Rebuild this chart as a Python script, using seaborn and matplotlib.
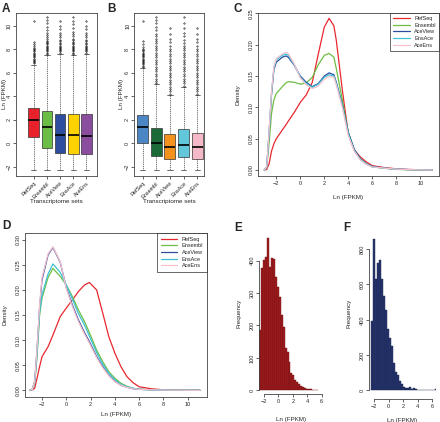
import numpy as np
import pandas as pd
import matplotlib
matplotlib.use("Agg")
import matplotlib.pyplot as plt
import seaborn as sns

sets = ["RefSeq", "Ensembl", "AceView", "EnsAce", "AceEns"]

# ---- panel A / B box summaries (Ln FPKM) ----
a_q1 = [0.51, -0.40, -0.86, -0.90, -0.90]
a_med = [1.94, 1.35, 0.72, 0.68, 0.64]
a_q3 = [2.95, 2.74, 2.46, 2.44, 2.46]
a_lo = [-2.3, -2.3, -2.3, -2.3, -2.3]
a_hi = [6.66, 7.50, 7.57, 7.50, 7.60]
a_fliers = [
    [6.8, 6.9, 7.0, 7.1, 7.2, 7.3, 7.4, 7.5, 7.6, 7.7, 7.8, 7.9, 8.0, 8.1, 8.25, 8.4, 8.6, 10.4],
    [7.6, 7.7, 7.8, 7.9, 8.0, 8.1, 8.2, 8.3, 8.4, 8.5, 8.6, 8.7, 8.85, 9.0, 9.2, 9.4, 9.6, 9.9, 10.2, 10.5, 10.7],
    [7.7, 7.8, 7.9, 8.0, 8.1, 8.2, 8.3, 8.4, 8.5, 8.65, 8.8, 9.0, 9.2, 9.4, 9.7, 10.0, 10.4],
    [7.6, 7.7, 7.8, 7.9, 8.0, 8.1, 8.2, 8.3, 8.4, 8.5, 8.6, 8.75, 8.9, 9.1, 9.3, 9.5, 9.8, 10.1, 10.4, 10.7],
    [7.7, 7.8, 7.9, 8.0, 8.1, 8.2, 8.3, 8.4, 8.5, 8.65, 8.8, 9.0, 9.2, 9.4, 9.7, 10.0, 10.4],
]
b_q1 = [0.00, -1.11, -1.31, -1.17, -1.31]
b_med = [1.35, 0.00, -0.37, -0.14, -0.37]
b_q3 = [2.43, 1.32, 0.80, 1.23, 0.85]
b_lo = [-2.3, -2.3, -2.3, -2.3, -2.3]
b_hi = [6.37, 5.00, 4.10, 4.80, 4.10]
b_fliers = [
    [6.5, 6.6, 6.7, 6.8, 6.9, 7.0, 7.1, 7.2, 7.3, 7.4, 7.5, 7.6, 7.7, 7.8, 7.9, 8.0, 8.2, 8.4, 8.7, 10.4],
    [5.1, 5.3, 5.5, 5.7, 5.9, 6.1, 6.3, 6.5, 6.7, 6.9, 7.1, 7.3, 7.5, 7.7, 7.9, 8.1, 8.3, 8.5, 8.7, 8.9, 9.1, 9.3, 9.6, 9.9, 10.2, 10.5, 10.7],
    [4.2, 4.4, 4.6, 4.8, 5.0, 5.2, 5.4, 5.6, 5.8, 6.0, 6.2, 6.4, 6.6, 6.8, 7.0, 7.2, 7.4, 7.6, 7.8, 8.0, 8.3, 8.6, 8.9, 9.3, 9.8],
    [4.9, 5.1, 5.3, 5.5, 5.7, 5.9, 6.1, 6.3, 6.5, 6.7, 6.9, 7.1, 7.3, 7.5, 7.7, 7.9, 8.1, 8.3, 8.5, 8.8, 9.1, 9.4, 9.8, 10.2, 10.7],
    [4.2, 4.4, 4.6, 4.8, 5.0, 5.2, 5.4, 5.6, 5.8, 6.0, 6.2, 6.4, 6.6, 6.8, 7.0, 7.2, 7.4, 7.6, 7.8, 8.0, 8.3, 8.6, 8.9, 9.3, 9.8],
]
a_colors = ["#E8212A", "#6CBD45", "#2E4D9F", "#FFD200", "#8B4E9F"]
b_colors = ["#4B87C5", "#1C6A38", "#F5921E", "#63C7DC", "#F5B8C6"]

# ---- panel C densities ----
c_x = [-3, -2.8, -2.6, -2.4, -2.2, -2, -1.5, -1.2, -1, -0.5, 0, 0.5, 1, 1.5, 2,
       2.4, 2.8, 3, 3.5, 4, 4.5, 5, 5.5, 6, 7, 8, 9, 10, 11]
c_dens = {
    "RefSeq":  [0, 0.001, 0.01, 0.03, 0.042, 0.05, 0.064, 0.072, 0.078, 0.092, 0.108, 0.12, 0.14, 0.185, 0.228,
                0.242, 0.23, 0.207, 0.128, 0.058, 0.032, 0.021, 0.013, 0.007, 0.004, 0.002, 0.001, 0.0005, 0],
    "Ensembl": [0, 0.004, 0.043, 0.09, 0.112, 0.122, 0.133, 0.139, 0.141, 0.14, 0.137, 0.139, 0.148, 0.168, 0.183,
                0.186, 0.18, 0.162, 0.112, 0.06, 0.032, 0.018, 0.01, 0.005, 0.003, 0.001, 0.0005, 0, 0],
    "AceView": [0, 0.005, 0.06, 0.12, 0.16, 0.172, 0.18, 0.182, 0.18, 0.167, 0.15, 0.14, 0.133, 0.138, 0.15,
                0.155, 0.152, 0.14, 0.105, 0.06, 0.033, 0.018, 0.01, 0.006, 0.003, 0.0015, 0.0007, 0.0003, 0],
    "EnsAce":  [0, 0.005, 0.06, 0.122, 0.163, 0.176, 0.183, 0.185, 0.183, 0.168, 0.148, 0.138, 0.132, 0.137, 0.148,
                0.152, 0.15, 0.138, 0.103, 0.058, 0.031, 0.017, 0.01, 0.005, 0.003, 0.0015, 0.0008, 0.0004, 0.0002],
    "AceEns":  [0, 0.005, 0.062, 0.125, 0.165, 0.178, 0.185, 0.188, 0.186, 0.169, 0.147, 0.136, 0.13, 0.134, 0.145,
                0.149, 0.148, 0.136, 0.1, 0.055, 0.03, 0.016, 0.009, 0.005, 0.003, 0.0015, 0.0007, 0.0003, 0],
}

# ---- panel D densities ----
d_x = [-3, -2.8, -2.6, -2.4, -2.2, -2, -1.5, -1.1, -0.5, 0, 0.5, 1, 1.5, 1.9, 2.5,
       3, 3.5, 4, 4.5, 5, 5.5, 6, 7, 8, 9, 10, 11]
d_dens = {
    "RefSeq":  [0, 0.001, 0.004, 0.025, 0.047, 0.067, 0.087, 0.11, 0.147, 0.164, 0.18, 0.197, 0.21, 0.215, 0.2,
                0.154, 0.107, 0.074, 0.047, 0.027, 0.015, 0.007, 0.003, 0.001, 0.0005, 0, 0],
    "Ensembl": [0, 0.002, 0.015, 0.07, 0.15, 0.184, 0.225, 0.243, 0.227, 0.21, 0.187, 0.16, 0.137, 0.115, 0.08,
                0.057, 0.037, 0.024, 0.014, 0.008, 0.004, 0.002, 0.001, 0.0005, 0, 0, 0],
    "AceView": [0, 0.002, 0.018, 0.085, 0.165, 0.22, 0.27, 0.285, 0.255, 0.205, 0.17, 0.14, 0.115, 0.097, 0.067,
                0.047, 0.03, 0.018, 0.01, 0.006, 0.003, 0.002, 0.001, 0.0005, 0, 0, 0],
    "EnsAce":  [0, 0.002, 0.016, 0.075, 0.155, 0.19, 0.232, 0.252, 0.235, 0.21, 0.182, 0.153, 0.13, 0.108, 0.075,
                0.052, 0.034, 0.021, 0.012, 0.007, 0.004, 0.002, 0.001, 0.0005, 0.0002, 0.0001, 0],
    "AceEns":  [0, 0.002, 0.018, 0.088, 0.17, 0.225, 0.272, 0.286, 0.256, 0.203, 0.167, 0.137, 0.112, 0.094, 0.065,
                0.045, 0.029, 0.017, 0.01, 0.006, 0.003, 0.002, 0.001, 0.0005, 0.0002, 0.0001, 0],
}
line_colors = ["#E8282E", "#6DBE45", "#2D4C9C", "#3EC1D3", "#F7C1CE"]

# ---- panel E / F histograms ----
e_start, e_width = -2.65, 0.27
e_counts = [186, 378, 402, 412, 469, 381, 407, 405, 351, 320, 289, 232, 196, 130, 119,
            88, 52, 47, 32, 27, 20, 14, 10, 7, 5, 4, 3, 2, 2, 1]
f_start, f_width = -2.5, 0.278
f_counts = [393, 858, 630, 724, 739, 632, 535, 456, 350, 295, 252, 157, 106, 87, 55,
            36, 21, 15, 11, 21, 9, 11, 6, 3, 2, 2, 2, 1, 1, 1, 1, 1, 8]

W, H = 440, 422
sns.set_style("ticks")
plt.rcParams["font.family"] = ["Liberation Sans", "DejaVu Sans"]
plt.rcParams["axes.linewidth"] = 0.6
plt.rcParams["xtick.major.width"] = 0.5
plt.rcParams["ytick.major.width"] = 0.5
plt.rcParams["xtick.major.size"] = 2
plt.rcParams["ytick.major.size"] = 2
plt.rcParams["xtick.major.pad"] = 1.5
plt.rcParams["ytick.major.pad"] = 1

fig = plt.figure(figsize=(W / 100, H / 100), dpi=100)


def px_axes(l, t, r, b):
    return fig.add_axes([l / W, 1 - b / H, (r - l) / W, (b - t) / H])


def frame(ax):
    for s in ax.spines.values():
        s.set_color("#444444")
        s.set_linewidth(0.6)


def draw_box(ax, q1, med, q3, lo, hi, fliers, colors):
    stats = []
    for i, name in enumerate(sets):
        stats.append(dict(label=name, q1=q1[i], med=med[i], q3=q3[i],
                          whislo=lo[i], whishi=hi[i], fliers=fliers[i]))
    bp = ax.bxp(stats, positions=range(5), widths=0.8, patch_artist=True,
                boxprops=dict(linewidth=0.5, edgecolor="#333333"),
                medianprops=dict(color="black", linewidth=1.2),
                whiskerprops=dict(linestyle=(0, (1.5, 1.2)), linewidth=0.5, color="#333333"),
                capprops=dict(linewidth=0.5, color="#333333"),
                flierprops=dict(marker="o", markersize=1.0, markerfacecolor="none",
                                markeredgecolor="black", markeredgewidth=0.4))
    for patch, c in zip(bp["boxes"], colors):
        patch.set_facecolor(c)
    ax.set_ylim(-2.77, 11.1)
    ax.set_yticks([-2, 0, 2, 4, 6, 8, 10])
    ax.tick_params(axis="y", labelsize=4, labelrotation=90)
    for lab in ax.get_yticklabels():
        lab.set_va("center")
    ax.set_xticks(range(5))
    ax.set_xticklabels(sets, rotation=45, ha="right", rotation_mode="anchor", fontsize=4)
    ax.set_xlabel("Transcriptome sets", fontsize=4.5, labelpad=-0.5)
    ax.set_ylabel("Ln (FPKM)", fontsize=4.5, labelpad=0.5)
    frame(ax)


# A
axA = px_axes(16, 12.7, 97, 175.7)
draw_box(axA, a_q1, a_med, a_q3, a_lo, a_hi, a_fliers, a_colors)
axA.set_xlim(-1.34, 4.8)
axA.yaxis.set_label_coords(-0.115, 0.5)

# B
axB = px_axes(134.3, 12.7, 204.3, 175.7)
draw_box(axB, b_q1, b_med, b_q3, b_lo, b_hi, b_fliers, b_colors)
axB.set_xlim(-0.6, 4.5)


def draw_density(ax, xs, dens, yticks, ylim, xlim):
    frames = [pd.DataFrame({"x": xs, "density": dens[s], "set": s}) for s in sets]
    df = pd.concat(frames, ignore_index=True)
    sns.lineplot(data=df, x="x", y="density", hue="set", hue_order=sets,
                 palette=line_colors, linewidth=0.9, ax=ax, estimator=None, sort=False)
    ax.set_xlim(*xlim)
    ax.set_ylim(*ylim)
    ax.set_xticks([-2, 0, 2, 4, 6, 8, 10])
    ax.set_yticks(yticks)
    ax.set_yticklabels([f"{v:.2f}" for v in yticks])
    ax.tick_params(axis="both", labelsize=4)
    ax.tick_params(axis="y", labelrotation=90)
    for lab in ax.get_yticklabels():
        lab.set_va("center")
    ax.set_xlabel("Ln (FPKM)", fontsize=4.5, labelpad=7)
    ax.set_ylabel("Density", fontsize=4.5, labelpad=6)
    h, l = ax.get_legend_handles_labels()
    leg = ax.legend(h, l, loc="upper right", fontsize=4, frameon=True, fancybox=False,
                    borderaxespad=0, handlelength=3, handletextpad=0.8,
                    borderpad=0.6, labelspacing=0.3)
    leg.get_frame().set_edgecolor("#222222")
    leg.get_frame().set_linewidth(0.6)
    frame(ax)


# C
axC = px_axes(257.7, 12.7, 439, 175.7)
draw_density(axC, c_x, c_dens, [0, 0.05, 0.10, 0.15, 0.20, 0.25], (-0.009, 0.251), (-3.55, 11.56))

# D
axD = px_axes(25, 233.3, 206.7, 396.7)
draw_density(axD, d_x, d_dens, [0, 0.05, 0.10, 0.15, 0.20, 0.25, 0.30], (-0.0128, 0.313), (-3.4, 11.56))
axD.xaxis.set_label_coords(0.5, -0.095)


def draw_hist(ax, start, width, counts, color, edge, yticks, ylim, xlim, offset, xpad):
    n = len(counts)
    centers = start + width * (np.arange(n) + 0.5)
    hist_df = pd.DataFrame({"x": centers, "n": counts})
    sns.histplot(data=hist_df, x="x", weights="n", binwidth=width,
                 binrange=(start, start + width * n), color=color, edgecolor=edge,
                 linewidth=0.3, alpha=1, ax=ax)
    ax.set_xlim(*xlim)
    ax.set_ylim(*ylim)
    ax.set_xticks([-2, 0, 2, 4, 6])
    ax.set_yticks(yticks)
    ax.tick_params(axis="both", labelsize=4)
    ax.tick_params(axis="y", labelrotation=90)
    for lab in ax.get_yticklabels():
        lab.set_va("center")
    sns.despine(ax=ax)
    ax.spines["left"].set_bounds(yticks[0], yticks[-1])
    ax.spines["bottom"].set_bounds(-2, 6)
    ax.spines["bottom"].set_position(("outward", offset))
    for s in ("left", "bottom"):
        ax.spines[s].set_color("#444444")
        ax.spines[s].set_linewidth(0.6)
    ax.set_xlabel("Ln (FPKM)", fontsize=4.5, labelpad=xpad)
    ax.set_ylabel("Frequency", fontsize=4.5, labelpad=6)


# E
axE = px_axes(259, 236, 324, 391)
draw_hist(axE, e_start, e_width, e_counts, "#A11C1E", "#6E0F10",
          [0, 100, 200, 300, 400], (-2, 476), (-2.69, 6.32), 2.5, 9)

# F
axF = px_axes(369, 236, 436, 391)
draw_hist(axF, f_start, f_width, f_counts, "#27366F", "#18224A",
          [0, 200, 400, 600, 800], (-4, 875), (-2.74, 6.56), 6, 6)

for lab, x, y in [("A", 2, 9), ("B", 107, 9), ("C", 233, 9),
                  ("D", 2, 226), ("E", 234, 228), ("F", 343, 228)]:
    fig.text(x / W, 1 - y / H, lab, fontsize=8.5, fontweight="bold", va="center", ha="left")

fig.savefig("out.png", dpi=100)
